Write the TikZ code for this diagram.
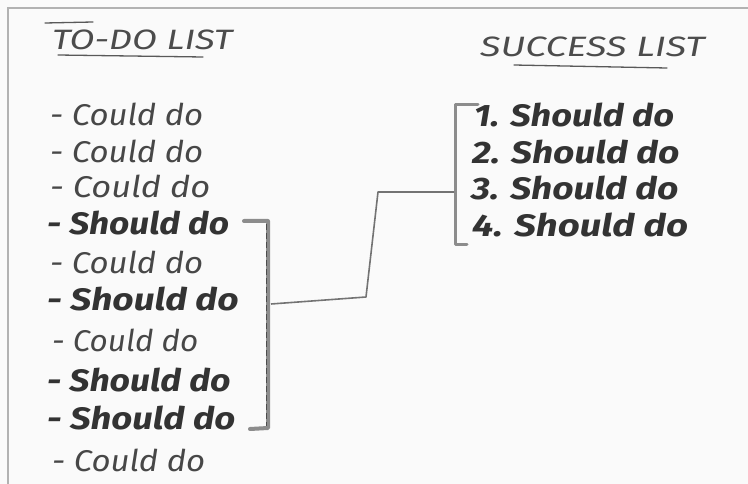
\documentclass[tikz,border=0pt]{standalone}
\usepackage{fontspec}
\setmainfont{Fira Sans}
\begin{document}
\begin{tikzpicture}[x=1pt,y=-1pt,
  could/.style={anchor=west,inner sep=0pt,text=black!72,font=\itshape\fontsize{30}{33}\selectfont},
  should/.style={anchor=west,inner sep=0pt,text=black!80,font=\bfseries\itshape\fontsize{31}{34}\selectfont},
  title/.style={anchor=west,inner sep=0pt,text=black!70,font=\itshape\fontsize{28}{31}\selectfont},
  uline/.style={draw=black!65,line width=1.3pt,line cap=round},
  brack/.style={draw=black!45,line width=4pt,line cap=round,line join=round},
  brackin/.style={draw=black!70,line width=0.8pt,dash pattern=on 6pt off 3pt},
  conn/.style={draw=black!55,line width=1.6pt,line join=round}]
\fill[black!2] (0,0) rectangle (748,484);
\useasboundingbox (0,0) rectangle (748,484);
\draw[black!30,line width=1.5pt] (8,484) -- (8,8) -- (748,8);
% titles
\node[title] (t1) at (52,40) {\scalebox{1.3}[1]{TO-DO LIST}};
\draw[uline] (45,23) -- (93,22);
\draw[uline] (58,55) -- (203,57);
\node[title] (t2) at (480,47) {\scalebox{1.35}[1]{SUCCESS LIST}};
\draw[uline] (514,65) -- (667,68);
% left list
\node[could]  (c1)  at (50,114) {\scalebox{1.1}[1]{- Could do}};
\node[could]  (c2)  at (50,151) {\scalebox{1.1}[1]{- Could do}};
\node[could]  (c3)  at (50,186) {\scalebox{1.15}[1]{- Could do}};
\node[should] (c4)  at (47,223) {\scalebox{1.14}[1]{- Should do}};
\node[could]  (c5)  at (50,262) {\scalebox{1.1}[1]{- Could do}};
\node[should] (c6)  at (47,299) {\scalebox{1.2}[1]{- Should do}};
\node[could]  (c7)  at (52,340) {\scalebox{1.05}[1]{- Could do}};
\node[should] (c8)  at (47,380) {\scalebox{1.15}[1]{- Should do}};
\node[should] (c9)  at (47,418) {\scalebox{1.18}[1]{- Should do}};
\node[could]  (c10) at (52,460) {\scalebox{1.1}[1]{- Could do}};
% right list
\node[should] (s1) at (474,115) {\scalebox{1.17}[1]{1. Should do}};
\node[should] (s2) at (472,152) {\scalebox{1.2}[1]{2. Should do}};
\node[should] (s3) at (471,188) {\scalebox{1.2}[1]{3. Should do}};
\node[should] (s4) at (472,225) {\scalebox{1.24}[1]{4. Should do}};
% left bracket
\coordinate (lbt) at (268,221);
\coordinate (lbb) at (268,428);
\draw[brack] (244,221) -- (lbt) -- (lbb) -- (250,429);
\draw[brackin] (266,224) -- (266,426);
% right bracket
\coordinate (rbt) at (455,105);
\coordinate (rbb) at (455,245);
\draw[brack,line width=3pt] (478,105) -- (rbt) -- (rbb) -- (467,245);
% connector
\coordinate (ca) at (271,304);
\coordinate (cb) at (366,297);
\coordinate (cc) at (378,192);
\coordinate (cd) at (454,192);
\draw[conn] (ca) -- (cb) -- (cc) -- (cd);
\end{tikzpicture}
\end{document}
